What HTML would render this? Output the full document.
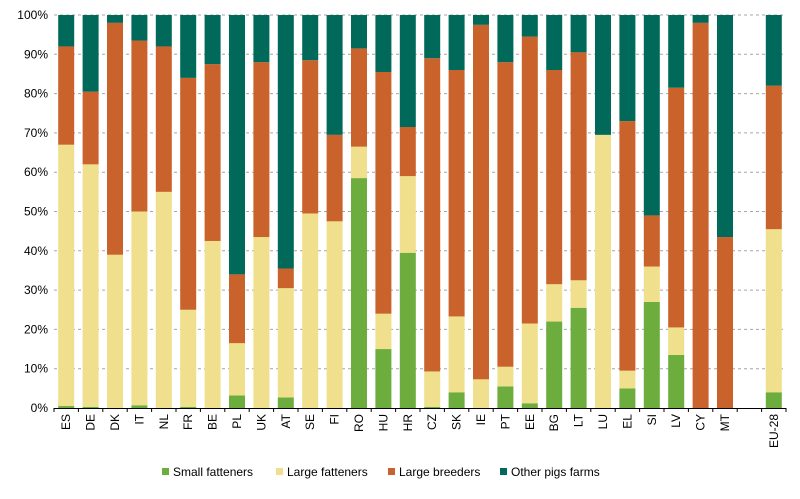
<!DOCTYPE html>
<html><head><meta charset="utf-8"><style>
body{margin:0;background:#fff;font-family:"Liberation Sans",Arial,sans-serif;}
svg text{font-family:"Liberation Sans",Arial,sans-serif;font-size:12px;fill:#000;}
</style></head><body>
<svg id="chart" width="800" height="494" viewBox="0 0 800 494" xmlns="http://www.w3.org/2000/svg"></svg>
<script>
const categories=["ES","DE","DK","IT","NL","FR","BE","PL","UK","AT","SE","FI","RO","HU","HR","CZ","SK","IE","PT","EE","BG","LT","LU","EL","SI","LV","CY","MT","","EU-28"];
const smallFatteners=[0.5,0.3,0,0.7,0,0.3,0,3.2,0,2.7,0,0,58.5,15,39.5,0.3,4,0,5.5,1.2,22,25.5,0,5,27,13.5,0,0,null,4];
const largeFatteners=[66.5,61.7,39,49.3,55,24.7,42.5,13.3,43.5,27.8,49.5,47.5,8,9,19.5,9,19.3,7.3,5,20.3,9.5,7,69.5,4.5,9,7,0,0,null,41.5];
const largeBreeders=[25,18.5,59,43.5,37,59,45,17.5,44.5,5,39,22,25,61.5,12.5,79.7,62.7,90.2,77.5,73,54.5,58,0,63.5,13,61,98,43.5,null,36.5];
const otherPigs=[8,19.5,2,6.5,8,16,12.5,66,12,64.5,11.5,30.5,8.5,14.5,28.5,11,14,2.5,12,5.5,14,9.5,30.5,27,51,18.5,2,56.5,null,18];
const yTicks=[0,10,20,30,40,50,60,70,80,90,100];
const series=[{name:"Small fatteners",vals:smallFatteners,color:"#6cad3e"},{name:"Large fatteners",vals:largeFatteners,color:"#f0df8c"},{name:"Large breeders",vals:largeBreeders,color:"#c9622b"},{name:"Other pigs farms",vals:otherPigs,color:"#00695a"}];
const NS="http://www.w3.org/2000/svg";
const svg=document.getElementById("chart");
const x0=54,x1=786,yTop=15,yBot=408;
const step=(x1-x0)/categories.length,bw=16;
const yS=v=>yBot-(v/100)*(yBot-yTop);
const xC=i=>x0+step*(i+0.5);
function mk(t,a){const e=document.createElementNS(NS,t);for(const k in a)e.setAttribute(k,a[k]);svg.appendChild(e);return e;}
yTicks.forEach(t=>{
 if(t>0){const g=mk("line",{x1:x0,x2:x1,y1:yS(t),y2:yS(t),stroke:"#a6a6a6","stroke-dasharray":"3,3","stroke-width":1});
 
 }
 const l=mk("text",{x:x0-6,y:yS(t)+4,"text-anchor":"end"});l.textContent=t+"%";
 
 
});
categories.forEach((c,i)=>{
 let acc=0;
 series.forEach(s=>{const v=s.vals[i];if(v==null||v<=0)return;
  const r=mk("rect",{x:xC(i)-bw/2,y:yS(acc+v),width:bw,height:yS(acc)-yS(acc+v),fill:s.color});
  
  
  acc+=v;});
 if(c){const tx=xC(i)+4,ty=yBot+6;const l=mk("text",{x:tx,y:ty,"text-anchor":"end",transform:`rotate(-90 ${tx} ${ty})`});l.textContent=c;
 
 }
});
const ax=mk("line",{x1:x0,x2:x1,y1:yBot+0.5,y2:yBot+0.5,stroke:"#000","stroke-width":1});


for(let i=0;i<=categories.length;i++){const tk=mk("line",{x1:x0+step*i,x2:x0+step*i,y1:yBot,y2:yBot+4,stroke:"#000"});
 
 }
const legX=[162,276,388,500];
series.forEach((s,k)=>{
 const r=mk("rect",{x:legX[k],y:468,width:7,height:7,fill:s.color});
 
 
 const t=mk("text",{x:legX[k]+11,y:476});t.textContent=s.name;
 
 
});
</script>
</body></html>
